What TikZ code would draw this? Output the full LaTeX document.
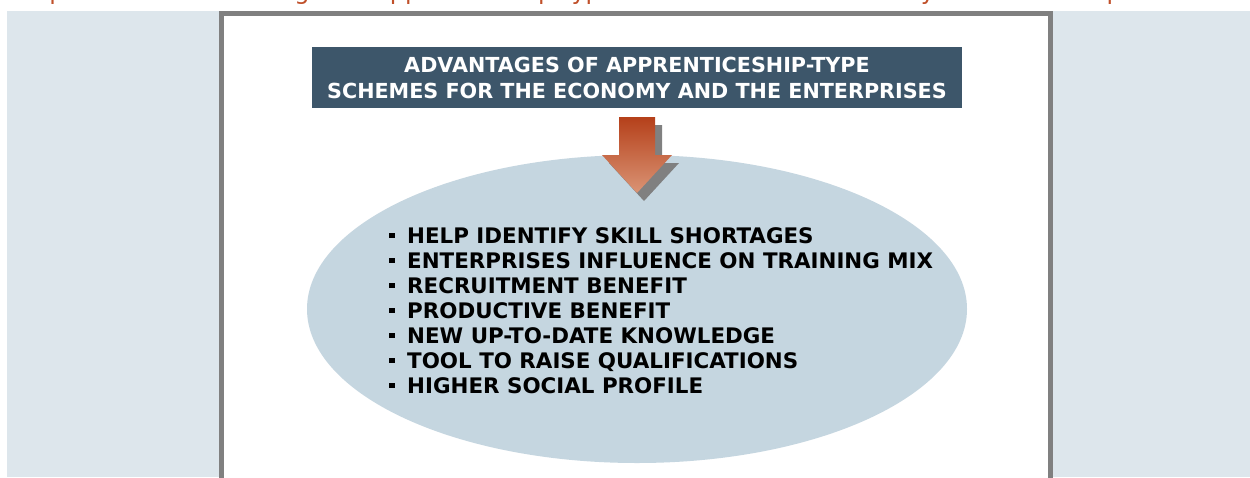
\documentclass[tikz,border=0pt]{standalone}
\usepackage{fontspec}
\setmainfont{DejaVu Sans}
\usetikzlibrary{positioning}
\usetikzlibrary{shapes.geometric}
\usetikzlibrary{math}
\definecolor{bgblue}{HTML}{DDE6EC}
\definecolor{framegray}{HTML}{808080}
\definecolor{titleblue}{HTML}{3D566A}
\definecolor{ovalblue}{HTML}{C5D6E0}
\definecolor{arrowtop}{HTML}{B5401A}
\definecolor{arrowbot}{HTML}{DA9475}
\definecolor{captionred}{HTML}{C0502A}
\tikzstyle{titlebox} = [rectangle, fill=titleblue, text=white, font=\bfseries\fontsize{20.7}{26}\selectfont, align=center, minimum width=650, minimum height=61, inner sep=0pt]
\tikzstyle{oval} = [ellipse, fill=ovalblue, minimum width=660, minimum height=308, inner sep=0pt]
\tikzstyle{item} = [anchor=base west, inner sep=0pt, font=\bfseries\fontsize{21.4}{25}\selectfont]
\tikzstyle{caption} = [anchor=base west, inner sep=0pt, text=captionred, font=\fontsize{24}{26}\selectfont]
\newcommand{\itm}{\makebox[18pt][l]{\rule[5pt]{6pt}{5.5pt}}}

\begin{document}
\begin{tikzpicture}[x=1pt, y=-1pt]

  \tikzmath{\acx = 637; \ashaft = 18; \ahead = 35; \ytop = 117; \ymid = 155; \ytip = 193; \sdx = 7; \sdy = 8;}

  \useasboundingbox (0,0) rectangle (1250,477);

  % background and panel
  \fill[bgblue] (7,11) rectangle (1250,477);
  \draw[framegray, line width=5pt, fill=white] (221.5,13.5) rectangle (1050.5,495);

  % caption line, cut off by the page
  \node[caption] (cap) at (6,-1) {Graph 2.3: The advantages of apprenticeship-type schemes for the economy and the enterprises};

  % title
  \node[titlebox] (title) at (\acx,77.5) {ADVANTAGES OF APPRENTICESHIP-TYPE\\SCHEMES FOR THE ECONOMY AND THE ENTERPRISES};

  % oval
  \node[oval] (ring) at (\acx,309) {};

  % arrow with shadow
  \fill[framegray] (\acx-\ashaft+\sdx,\ytop+\sdy) -- (\acx+\ashaft+\sdx,\ytop+\sdy) -- (\acx+\ashaft+\sdx,\ymid+\sdy) -- (\acx+\ahead+\sdx,\ymid+\sdy) -- (\acx+\sdx,\ytip+\sdy) -- (\acx-\ahead+\sdx,\ymid+\sdy) -- (\acx-\ashaft+\sdx,\ymid+\sdy) -- cycle;
  \shade[top color=arrowtop, bottom color=arrowbot] (\acx-\ashaft,\ytop) -- (\acx+\ashaft,\ytop) -- (\acx+\ashaft,\ymid) -- (\acx+\ahead,\ymid) -- (\acx,\ytip) -- (\acx-\ahead,\ymid) -- (\acx-\ashaft,\ymid) -- cycle;

  % list
  \foreach \t [count=\i] in {HELP IDENTIFY SKILL SHORTAGES, ENTERPRISES INFLUENCE ON TRAINING MIX, RECRUITMENT BENEFIT, PRODUCTIVE BENEFIT, NEW UP-TO-DATE KNOWLEDGE, TOOL TO RAISE QUALIFICATIONS, HIGHER SOCIAL PROFILE}
    \node[item] (p\i) at (389,243+25*\i-25) {\itm\t};

\end{tikzpicture}
\end{document}
